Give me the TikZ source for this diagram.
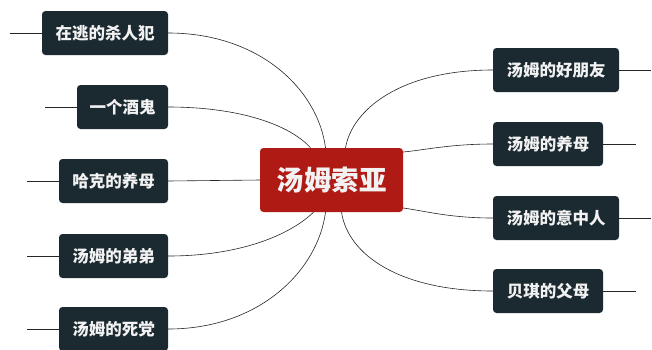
\documentclass[tikz,border=0pt]{standalone}
\usepackage{fontspec}
\newfontfamily\cjk{Noto Sans CJK SC}
\definecolor{boxdark}{HTML}{1B2A31}
\definecolor{rootred}{HTML}{B01A14}
\definecolor{txtlight}{HTML}{F2F2F2}
\begin{document}
\begin{tikzpicture}[x=1pt,y=-1pt,
  leaf/.style={rectangle, rounded corners=3.5pt, fill=boxdark, text=txtlight,
    font=\cjk\bfseries\fontsize{16.5}{18}\selectfont, minimum height=44pt,
    inner xsep=0pt, anchor=center},
  rootbox/.style={rectangle, rounded corners=3.5pt, fill=rootred, text=txtlight,
    font=\cjk\bfseries\fontsize{27.5}{30}\selectfont, minimum width=143pt,
    minimum height=64pt, inner sep=0pt},
  link/.style={draw=black!85, line width=0.6pt},
  stub/.style={draw=black!85, line width=0.6pt}]
\useasboundingbox (0,0) rectangle (652,349);
\fill[white] (0,0) rectangle (652,349);

\node[rootbox] (root) at (331.5,180) {汤姆索亚};

% left nodes
\node[leaf, minimum width=126pt] (l1) at (105,33) {在逃的杀人犯};
\node[leaf, minimum width=91pt] (l2) at (122.5,107) {一个酒鬼};
\node[leaf, minimum width=109pt] (l3) at (113.5,181) {哈克的养母};
\node[leaf, minimum width=109pt] (l4) at (113.5,256) {汤姆的弟弟};
\node[leaf, minimum width=109pt] (l5) at (113.5,329) {汤姆的死党};

% right nodes
\node[leaf, minimum width=126pt] (r1) at (556,70) {汤姆的好朋友};
\node[leaf, minimum width=110pt] (r2) at (548,144) {汤姆的养母};
\node[leaf, minimum width=126pt] (r3) at (556,218) {汤姆的意中人};
\node[leaf, minimum width=110pt] (r4) at (548,291) {贝琪的父母};

% stub coordinates
\coordinate (s1) at (10,33);
\coordinate (s2) at (45,107);
\coordinate (s3) at (27,181);
\coordinate (s4) at (27,256);
\coordinate (s5) at (27,329);
\coordinate (t1) at (651,70);
\coordinate (t2) at (636,144);
\coordinate (t3) at (651,218);
\coordinate (t4) at (636,291);

\draw[stub] (s1) -- (l1.west);
\draw[stub] (s2) -- (l2.west);
\draw[stub] (s3) -- (l3.west);
\draw[stub] (s4) -- (l4.west);
\draw[stub] (s5) -- (l5.west);
\draw[stub] (r1.east) -- (t1);
\draw[stub] (r2.east) -- (t2);
\draw[stub] (r3.east) -- (t3);
\draw[stub] (r4.east) -- (t4);

% curved links
\coordinate (a1) at ([xshift=-6pt]root.north);
\coordinate (a2) at ([xshift=-21pt]root.north);
\coordinate (a4) at ([xshift=-18pt]root.south);
\coordinate (a5) at ([xshift=-6pt]root.south);
\coordinate (b1) at ([xshift=14pt]root.north);
\coordinate (b2) at ([yshift=28pt]root.east);
\coordinate (b3) at ([yshift=-28pt]root.east);
\coordinate (b4) at ([xshift=10pt]root.south);

\draw[link] (l1.east) .. controls (260,33) and (318,90) .. (a1);
\draw[link] (l2.east) .. controls (240,107) and (290,125) .. (a2);
\draw[link] (l3.east) -- (root.west);
\draw[link] (l4.east) .. controls (240,256) and (290,235) .. (a4);
\draw[link] (l5.east) .. controls (260,329) and (318,270) .. (a5);

\draw[link] (r1.west) .. controls (400,70) and (352,110) .. (b1);
\draw[link] (r2.west) .. controls (450,144) and (425,150) .. (b2);
\draw[link] (r3.west) .. controls (450,218) and (425,211) .. (b3);
\draw[link] (r4.west) .. controls (400,291) and (348,255) .. (b4);
\end{tikzpicture}
\end{document}
